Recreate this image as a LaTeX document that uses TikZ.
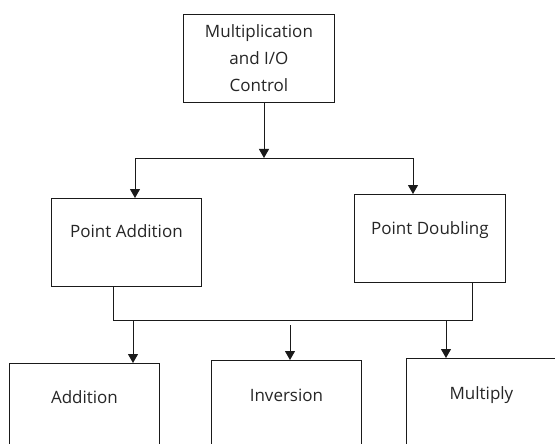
\documentclass[tikz,border=0pt]{standalone}
\usepackage{fontspec}
\setmainfont{Open Sans}
\usetikzlibrary{positioning, arrows.meta, calc}
\definecolor{linecol}{HTML}{1A1A1A}
\definecolor{textcol}{HTML}{262626}
\tikzset{
  % plain unit box, anchored at its top-left corner
  block/.style={draw=linecol, line width=0.9pt, anchor=north west,
                minimum width=150pt, inner sep=0pt, text=textcol,
                font=\fontsize{17pt}{27pt}\selectfont},
  % connector ending in a filled head
  link/.style={draw=linecol, line width=0.9pt,
               -{Triangle[length=9pt,width=10pt]}},
  % plain bus line
  wire/.style={draw=linecol, line width=0.9pt},
}

\begin{document}
\begin{tikzpicture}[x=1pt, y=-1pt]
  \useasboundingbox (0,0) rectangle (555,444);
  \fill[white] (0,0) rectangle (555,444);
  \clip (0,0) rectangle (555,444);

  % control unit
  \node[block, minimum width=151pt, minimum height=88pt, align=center]
    (ctrl) at (183,14) {Multiplication\\and I/O\\Control};

  % point level
  \node[block, text height=39pt, text depth=49pt] (padd) at (51,198) {Point Addition};
  \node[block, minimum width=151pt, text height=40.5pt, text depth=47.5pt]
    (pdbl) at (354,194) {Point Doubling};

  % field level (cut off by the frame)
  \node[block, text height=40pt, text depth=48pt] (add) at (9,363) {Addition};
  \node[block, text height=40.7pt, text depth=47.3pt] (inv) at (211,360) {Inversion};
  \node[block, text height=41pt, text depth=47pt] (mul) at (406,358) {Multiply};

  % upper fork
  \coordinate (split) at (264,158);
  \coordinate (forkL) at (135,158);
  \coordinate (forkR) at (413,158);
  \draw[link] (ctrl.south -| split) -- (split);
  \draw[wire] (forkL) -- (forkR);
  \draw[link] (forkL) -- (forkL |- padd.north);
  \draw[link] (forkR) -- (forkR |- pdbl.north);

  % lower bus
  \coordinate (joinL) at (113,320);
  \coordinate (joinR) at (472,320);
  \draw[wire] (joinL |- padd.south) -- (joinL) -- (joinR) -- (joinR |- pdbl.south);
  \coordinate (tapA) at (133,320);
  \coordinate (tapI) at (290,325);
  \coordinate (tapM) at (446,320);
  \draw[link] (tapA) -- (tapA |- add.north);
  \draw[link] (tapI) -- (tapI |- inv.north);
  \draw[link] (tapM) -- (tapM |- mul.north);
\end{tikzpicture}
\end{document}
